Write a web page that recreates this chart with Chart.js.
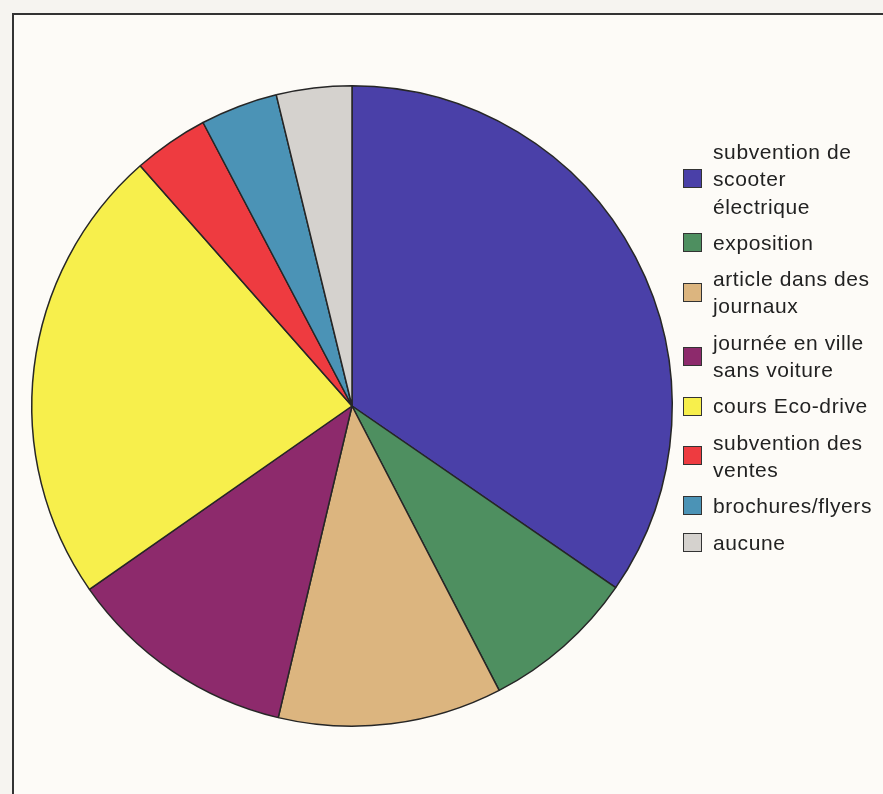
<!DOCTYPE html>
<html lang="fr">
<head>
<meta charset="utf-8">
<title>Mesures</title>
<script src="https://cdn.jsdelivr.net/npm/chart.js@4.4.1/dist/chart.umd.min.js"></script>
<style>
    html, body {
        margin: 0;
        padding: 0;
        width: 883px;
        height: 794px;
        background: #f6f4f0;
        overflow: hidden;
    }
    #frame {
        position: absolute;
        left: 12px;
        top: 13px;
        width: 871px;
        height: 781px;
        background: #fdfbf7;
        border-left: 2px solid #333;
        border-top: 2px solid #333;
        box-sizing: border-box;
    }
    #pieChart {
        position: absolute;
        left: 0;
        top: 0;
    }
    #legend {
        position: absolute;
        left: 683px;
        top: 138px;
        font-family: "Liberation Sans", Arial, sans-serif;
        font-size: 21px;
        letter-spacing: 0.6px;
        color: #222;
    }
    .item {
        display: flex;
        align-items: center;
        margin-bottom: 9px;
    }
    .box {
        width: 19px;
        height: 19px;
        box-sizing: border-box;
        border: 1.5px solid #333;
        margin-right: 11px;
        flex: none;
    }
    .text div {
        line-height: 27.3px;
    }
</style>
</head>
<body>
<div id="frame"></div>
<canvas id="pieChart" width="883" height="794"></canvas>
<div id="legend"></div>

<script>
const labels = [
    ['subvention de', 'scooter', 'électrique'],
    ['exposition'],
    ['article dans des', 'journaux'],
    ['journée en ville', 'sans voiture'],
    ['cours Eco-drive'],
    ['subvention des', 'ventes'],
    ['brochures/flyers'],
    ['aucune']
];
const shares = [34.6, 7.8, 11.3, 11.6, 23.2, 3.8, 3.9, 3.8];
const colors = ['#4a40a8', '#4e8f60', '#dcb57f', '#8d2a6c', '#f7ef4c', '#ee3b40', '#4b93b6', '#d5d2ce'];

document.addEventListener('DOMContentLoaded', function() {
    const ctx = document.getElementById('pieChart').getContext('2d');
    new Chart(ctx, {
        type: 'pie',
        data: {
            labels: labels.map(l => l.join(' ')),
            datasets: [{
                data: shares,
                backgroundColor: colors,
                borderColor: '#262626',
                borderWidth: 1.5
            }]
        },
        options: {
            responsive: false,
            animation: false,
            layout: {
                padding: { left: 31, top: 85, right: 210, bottom: 67 }
            },
            plugins: {
                legend: { display: false },
                tooltip: { enabled: false }
            }
        }
    });

    // legend built from the same label/colour arrays
    const legend = document.getElementById('legend');
    labels.forEach(function(lines, i) {
        const item = document.createElement('div');
        item.className = 'item';
        const box = document.createElement('div');
        box.className = 'box';
        box.style.background = colors[i];
        const text = document.createElement('div');
        text.className = 'text';
        lines.forEach(function(line) {
            const d = document.createElement('div');
            d.textContent = line;
            text.appendChild(d);
        });
        item.appendChild(box);
        item.appendChild(text);
        legend.appendChild(item);
    });
});
</script>
</body>
</html>
